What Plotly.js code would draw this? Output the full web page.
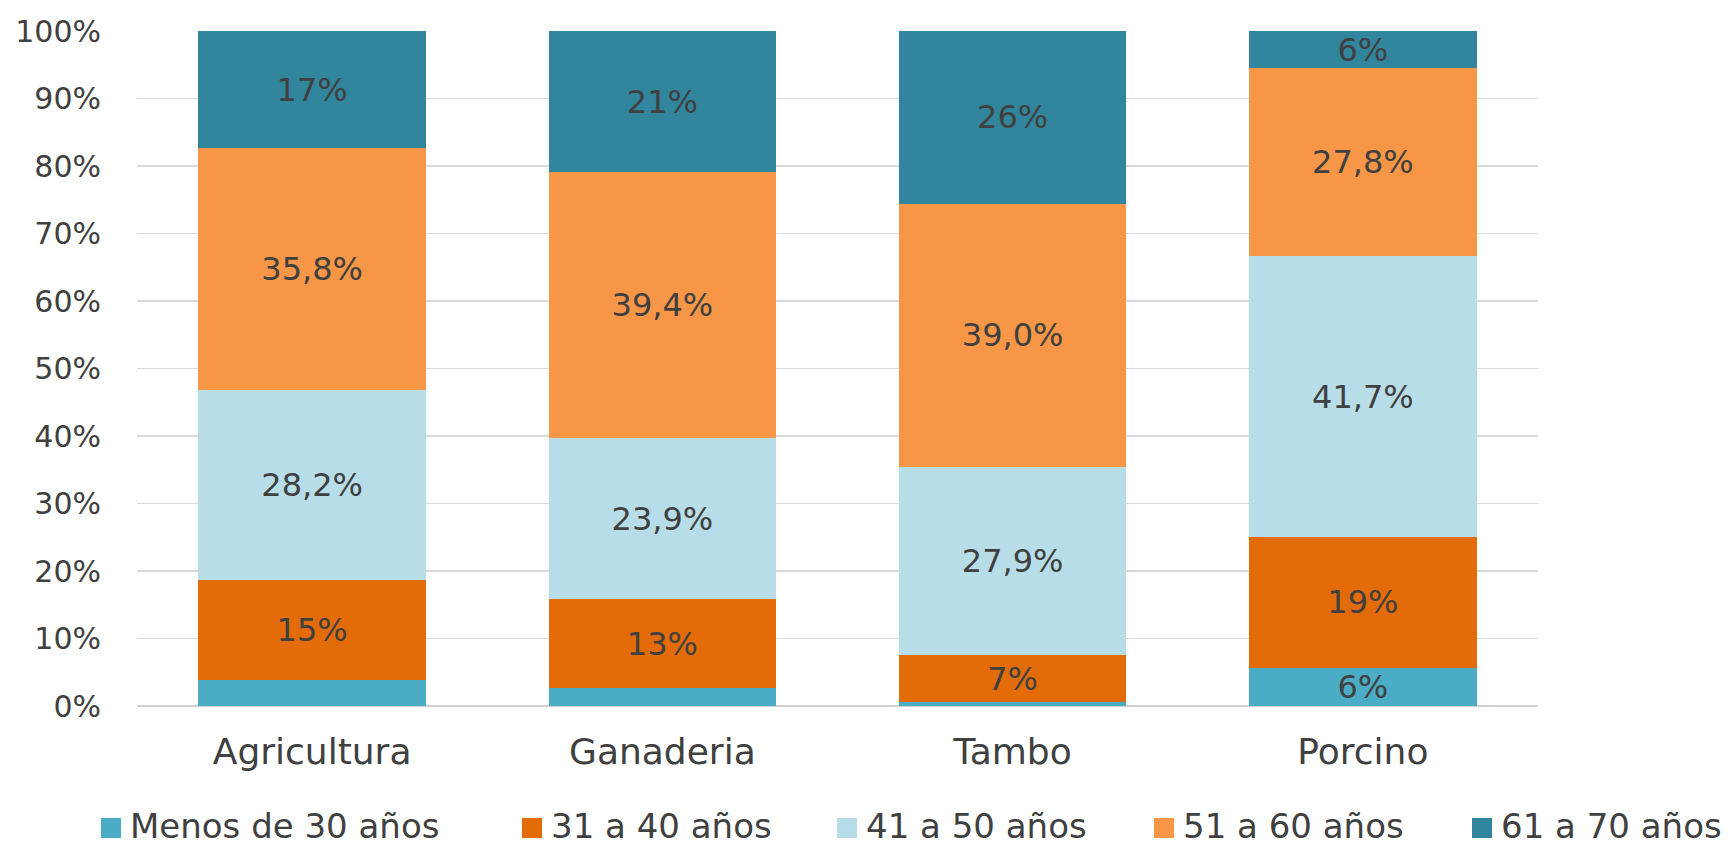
<!DOCTYPE html>
<html>
<head>
<meta charset="utf-8">
<script src="https://cdn.plot.ly/plotly-3.0.1.min.js"></script>
<style>html,body{margin:0;padding:0;background:#fff;}#chart{width:1731px;height:847px;}</style>
</head>
<body>
<div id="chart"></div>
<script>
const categories = ["Agricultura", "Ganaderia", "Tambo", "Porcino"];
const seriesNames = ["Menos de 30 años", "31 a 40 años", "41 a 50 años", "51 a 60 años", "61 a 70 años"];
const menos30 = [3.9, 2.6, 0.6, 5.7];
const de31a40 = [14.7, 13.2, 6.9, 19.3];
const de41a50 = [28.2, 23.9, 27.9, 41.7];
const de51a60 = [35.8, 39.4, 39.0, 27.8];
const de61a70 = [17.4, 20.9, 25.6, 5.5];
const labelsMenos30 = ["", "", "", "6%"];
const labels31a40 = ["15%", "13%", "7%", "19%"];
const labels41a50 = ["28,2%", "23,9%", "27,9%", "41,7%"];
const labels51a60 = ["35,8%", "39,4%", "39,0%", "27,8%"];
const labels61a70 = ["17%", "21%", "26%", "6%"];
const yTickVals = [0, 10, 20, 30, 40, 50, 60, 70, 80, 90, 100];
const yTickText = ["0%", "10%", "20%", "30%", "40%", "50%", "60%", "70%", "80%", "90%", "100%"];

const colors = ["#4BACC6", "#E36C09", "#B7DEE8", "#F79646", "#31859C"];
const values = [menos30, de31a40, de41a50, de51a60, de61a70];
const labels = [labelsMenos30, labels31a40, labels41a50, labels51a60, labels61a70];
const FONT = "DejaVu Sans, sans-serif";
const TXT = "#404040";

const traces = seriesNames.map((name, i) => ({
  type: "bar",
  name: name,
  x: categories,
  y: values[i],
  text: labels[i],
  textposition: "inside",
  insidetextanchor: "middle",
  textangle: 0,
  constraintext: "none",
  textfont: {family: FONT, size: 32, color: TXT},
  marker: {color: colors[i], line: {width: 0}},
  showlegend: false,
  hoverinfo: "skip"
}));

// Legend drawn as shapes + annotations (plot area: x 137..1538 px, y 31..706 px)
const plotL = 137, plotW = 1401, plotB = 706, plotH = 675;
const legendLeftPx = [101, 522, 837, 1154, 1472];
const px2x = p => (p - plotL) / plotW;
const px2y = p => (plotB - p) / plotH;
const shapes = [];
const annotations = [];
seriesNames.forEach((name, i) => {
  const l = legendLeftPx[i];
  shapes.push({
    type: "rect", xref: "paper", yref: "paper",
    x0: px2x(l), x1: px2x(l + 20), y0: px2y(838), y1: px2y(818),
    fillcolor: colors[i], line: {width: 0}
  });
  annotations.push({
    xref: "paper", yref: "paper",
    x: px2x(l + 27), y: px2y(826),
    xanchor: "left", yanchor: "middle",
    text: name, showarrow: false,
    font: {family: FONT, size: 34, color: TXT}
  });
});

const layout = {
  width: 1731, height: 847,
  barmode: "stack",
  bargap: 0.35,
  margin: {l: 137, r: 193, t: 31, b: 141, pad: 0, autoexpand: false},
  paper_bgcolor: "#ffffff",
  plot_bgcolor: "#ffffff",
  font: {family: FONT, color: TXT, size: 30},
  uniformtext: {minsize: 32, mode: "show"},
  showlegend: false,
  shapes: shapes,
  annotations: annotations,
  xaxis: {
    type: "category",
    showgrid: false,
    showline: false,
    zeroline: false,
    ticks: "",
    tickfont: {family: FONT, size: 36, color: TXT},
    ticklabelstandoff: 21
  },
  yaxis: {
    range: [0, 100],
    tickmode: "array",
    tickvals: yTickVals,
    ticktext: yTickText,
    showgrid: true,
    gridcolor: "#d9d9d9",
    gridwidth: 1.5,
    zeroline: true,
    zerolinecolor: "#d0d0d0",
    zerolinewidth: 2,
    showline: false,
    ticks: "",
    tickfont: {family: FONT, size: 30, color: TXT},
    ticklabelstandoff: 35
  }
};

Plotly.newPlot("chart", traces, layout, {displayModeBar: false, staticPlot: true});
</script>
</body>
</html>
